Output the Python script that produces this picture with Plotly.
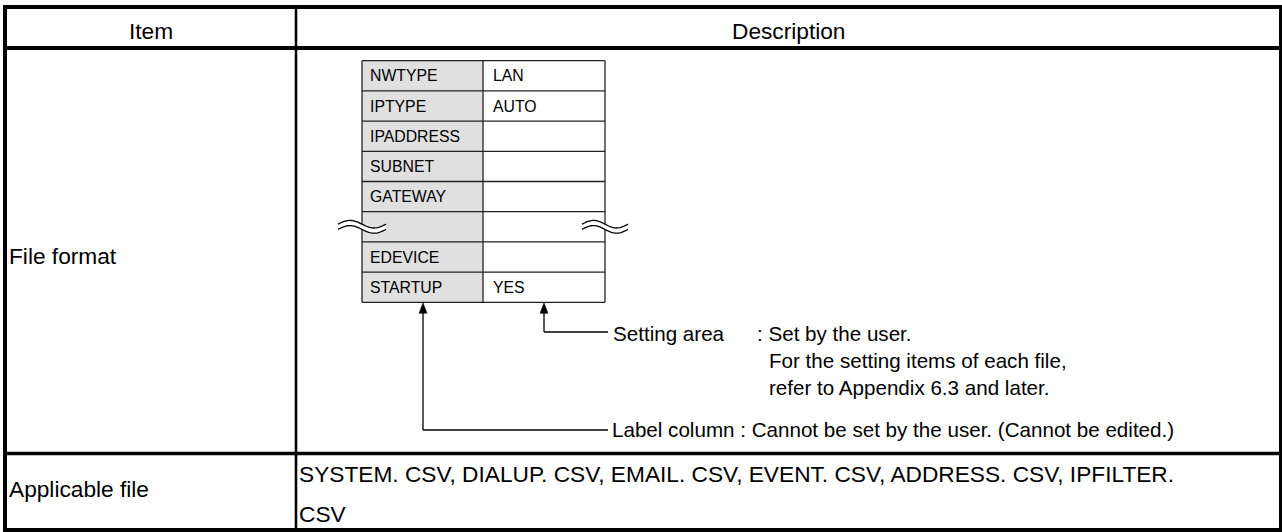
import numpy as np
import plotly.graph_objects as go

# ---------------- data ----------------
header_labels = ["Item", "Description"]
row_items = ["File format", "Applicable file"]
applicable_lines = [
    "SYSTEM. CSV, DIALUP. CSV, EMAIL. CSV, EVENT. CSV, ADDRESS. CSV, IPFILTER.",
    "CSV",
]
format_labels = ["NWTYPE", "IPTYPE", "IPADDRESS", "SUBNET", "GATEWAY", "", "EDEVICE", "STARTUP"]
format_values = ["LAN", "AUTO", "", "", "", "", "", "YES"]
setting_title = "Setting area"
setting_lines = [": Set by the user.", "For the setting items of each file,", "refer to Appendix 6.3 and later."]
label_note = "Label column : Cannot be set by the user. (Cannot be edited.)"
break_row = 5  # index of the omitted row (wavy break)

# ---------------- layout constants (pixels) ----------------
W, H = 1282, 532
FONT = "Liberation Sans, Arial, sans-serif"
F_MAIN, F_NOTE, F_INNER = 22.7, 20.6, 15.8

left, right, top, bottom = 5, 1280.5, 7, 530
head_y, row_y, col_x = 48, 453.5, 296

tx0, tx1, tx2 = 362, 483, 605
ty0, row_h = 60.7, 30.2

lab_ax, set_ax = 423, 544
tbl_bottom = ty0 + row_h * len(format_labels)
set_line_y, lab_line_y, line_end = 332, 430, 608

fig = go.Figure()
shapes = []
ann = []


def line(x0, y0, x1, y1, w, c="black"):
    shapes.append(dict(type="line", x0=x0, y0=y0, x1=x1, y1=y1, xref="x", yref="y",
                       line=dict(color=c, width=w), layer="above"))


def text(x, y, s, size, xanchor="left"):
    ann.append(dict(x=x, y=y, xref="x", yref="y", text=s, showarrow=False,
                    xanchor=xanchor, yanchor="middle", borderpad=0, borderwidth=0,
                    font=dict(family=FONT, size=size, color="black")))


# ---- inner format table ----
shapes.append(dict(type="rect", x0=tx0, x1=tx1, y0=ty0, y1=tbl_bottom, xref="x", yref="y",
                   fillcolor="#e0e0e0", line=dict(width=0), layer="below"))
for i in range(len(format_labels) + 1):
    y = ty0 + i * row_h
    line(tx0, y, tx2, y, 1.3, "#222")
for x in (tx0, tx1, tx2):
    line(x, ty0, x, tbl_bottom, 1.3, "#222")
for i, (lab, val) in enumerate(zip(format_labels, format_values)):
    yc = ty0 + (i + 0.5) * row_h
    if lab:
        text(tx0 + 8, yc, lab, F_INNER)
    if val:
        text(tx1 + 10, yc, val, F_INNER)

# ---- wavy break marks ----
yb = ty0 + (break_row + 0.5) * row_h
for xa, xb in ((338, 386), (582, 628)):
    xs = np.linspace(xa, xb, 40)
    t = (xs - xa) / (xb - xa)
    wave = -3.8 * np.sin(2 * np.pi * t)
    up = yb - 2.6 + wave
    dn = yb + 2.6 + wave
    p_fill = "M " + " L ".join(f"{x:.2f},{y:.2f}" for x, y in zip(xs, up))
    p_fill += " L " + " L ".join(f"{x:.2f},{y:.2f}" for x, y in zip(xs[::-1], dn[::-1])) + " Z"
    shapes.append(dict(type="path", path=p_fill, xref="x", yref="y", fillcolor="white",
                       line=dict(width=0), layer="above"))
    for yy in (up, dn):
        p = "M " + " L ".join(f"{x:.2f},{y:.2f}" for x, y in zip(xs, yy))
        shapes.append(dict(type="path", path=p, xref="x", yref="y",
                           line=dict(color="black", width=1.3), layer="above"))

# ---- arrows ----
for ax, ly in ((lab_ax, lab_line_y), (set_ax, set_line_y)):
    line(ax, tbl_bottom + 9, ax, ly, 1.3)
    line(ax, ly, line_end, ly, 1.3)
    tip = tbl_bottom + 0.5
    shapes.append(dict(type="path", xref="x", yref="y",
                       path=f"M {ax},{tip} L {ax-4},{tip+10.5} L {ax+4},{tip+10.5} Z",
                       fillcolor="black", line=dict(color="black", width=0.5), layer="above"))

# ---- notes ----
text(613, set_line_y + 1, setting_title, F_NOTE)
text(757, set_line_y + 1, setting_lines[0], F_NOTE)
text(769, 360, setting_lines[1], F_NOTE)
text(769, 387, setting_lines[2], F_NOTE)
text(612, lab_line_y - 1, label_note, F_NOTE)

# ---- main table ----
line(left, top, right, top, 4)
line(left, bottom, right, bottom, 4)
line(left, top - 2, left, bottom + 2, 4)
line(right, top - 2, right, bottom + 2, 3)
line(left, head_y, right, head_y, 4)
line(left, row_y, right, row_y, 3.5)
line(col_x, top, col_x, bottom, 2.5)

text((left + col_x) / 2, 31, header_labels[0], F_MAIN, "center")
text((col_x + right) / 2, 31, header_labels[1], F_MAIN, "center")
text(9, 256, row_items[0], F_MAIN)
text(9, 489, row_items[1], F_MAIN)
text(299, 474, applicable_lines[0], F_MAIN)
text(299, 514, applicable_lines[1], F_MAIN)

fig.update_layout(
    width=W, height=H,
    margin=dict(l=0, r=0, t=0, b=0, pad=0),
    paper_bgcolor="white", plot_bgcolor="white",
    xaxis=dict(range=[0, W], visible=False, fixedrange=True),
    yaxis=dict(range=[H, 0], visible=False, fixedrange=True),
    shapes=shapes, annotations=ann, showlegend=False,
)
fig.write_html("out.html", post_script="document.body.style.margin='0';",
               config={"displayModeBar": False})
